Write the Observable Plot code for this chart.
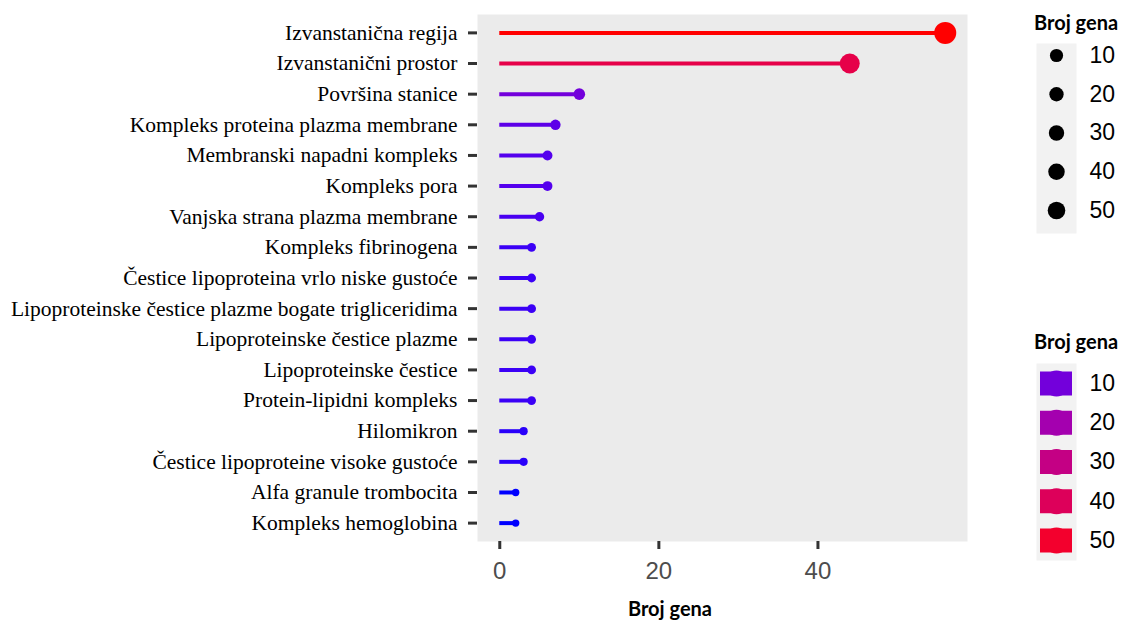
<!DOCTYPE html>
<html>
<head>
<meta charset="utf-8">
<script src="https://cdn.jsdelivr.net/npm/d3@7"></script>
<script src="https://cdn.jsdelivr.net/npm/@observablehq/plot@0.6"></script>
<style>
  html, body { margin: 0; padding: 0; background: #fff; }
  #wrap { position: relative; width: 1123px; height: 621px; overflow: hidden; }
  .abs { position: absolute; }
  .abs svg { max-width: none !important; overflow: visible; }
  .ttl { font-family: Lato, "Liberation Sans", sans-serif; font-weight: bold; font-size: 20px; color: #000; white-space: nowrap; line-height: 24px; }
</style>
</head>
<body>
<div id="wrap">
  <div id="main" class="abs" style="left:0;top:0;width:1123px"></div>
  <div id="xtitle" class="abs ttl" style="left:570px;top:596px;width:200px;text-align:center">Broj gena</div>
  <div class="abs ttl" style="left:1034px;top:10px">Broj gena</div>
  <div id="legSize" class="abs" style="left:1036px;top:43px;width:87px"></div>
  <div class="abs ttl" style="left:1034px;top:329px">Broj gena</div>
  <div id="legColor" class="abs" style="left:1036px;top:363px;width:87px"></div>
</div>
<script>
const categories = [
  "Izvanstanična regija",
  "Izvanstanični prostor",
  "Površina stanice",
  "Kompleks proteina plazma membrane",
  "Membranski napadni kompleks",
  "Kompleks pora",
  "Vanjska strana plazma membrane",
  "Kompleks fibrinogena",
  "Čestice lipoproteina vrlo niske gustoće",
  "Lipoproteinske čestice plazme bogate trigliceridima",
  "Lipoproteinske čestice plazme",
  "Lipoproteinske čestice",
  "Protein-lipidni kompleks",
  "Hilomikron",
  "Čestice lipoproteine visoke gustoće",
  "Alfa granule trombocita",
  "Kompleks hemoglobina"
];
const values = [56, 44, 10, 7, 6, 6, 5, 4, 4, 4, 4, 4, 4, 3, 3, 2, 2];
const xTicks = [0, 20, 40];
const legendValues = [10, 20, 30, 40, 50];

const data = categories.map((name, i) => ({name, value: values[i]}));

const colorScale = {type: "linear", domain: [2, 56], range: ["blue", "red"], interpolate: d3.interpolateLab};

const main = Plot.plot({
  width: 1123, height: 621,
  marginLeft: 477, marginRight: 156, marginTop: 14, marginBottom: 80,
  x: {domain: [-2.8, 58.8]},
  y: {type: "point", domain: categories, padding: 0.6, round: false},
  color: colorScale,
  r: {type: "sqrt", domain: [2, 56], range: [3.7, 11]},
  marks: [
    Plot.frame({fill: "#ebebeb", stroke: "none"}),
    Plot.ruleY(data, {y: "name", x1: 0, x2: "value", stroke: "value", strokeWidth: 4}),
    Plot.dot(data, {y: "name", x: "value", r: "value", fill: "value"}),
    Plot.axisY({tickSize: 9, tickPadding: 11, fontSize: 21.5, fontFamily: "Liberation Serif", stroke: "#333", strokeWidth: 3, fill: "#000", label: null}),
    Plot.axisX({ticks: xTicks, tickSize: 8, tickPadding: 12, fontSize: 24, fontFamily: "Liberation Sans", stroke: "#333", strokeWidth: 3, fill: "#4d4d4d", label: null})
  ]
});
document.getElementById("main").appendChild(main);

const legSize = Plot.plot({
  width: 87, height: 190,
  marginLeft: 0, marginRight: 47, marginTop: 0, marginBottom: 0,
  y: {type: "point", domain: legendValues, range: [12, 167], padding: 0, round: false},
  r: {type: "linear", domain: [10, 50], range: [6.6, 8.8]},
  marks: [
    Plot.frame({fill: "#f2f2f2", stroke: "none"}),
    Plot.dot(legendValues, {y: d => d, r: d => d, fill: "#000"}),
    Plot.axisY({anchor: "right", tickSize: 0, tickPadding: 13, fontSize: 23, fontFamily: "Liberation Sans", fill: "#000", label: null})
  ]
});
document.getElementById("legSize").appendChild(legSize);

const legColor = Plot.plot({
  width: 87, height: 197,
  marginLeft: 0, marginRight: 47, marginTop: 0, marginBottom: 0,
  y: {type: "point", domain: legendValues, range: [20, 177], padding: 0, round: false},
  color: colorScale,
  marks: [
    Plot.frame({fill: "#f2f2f2", stroke: "none"}),
    Plot.ruleY(legendValues, {y: d => d, stroke: d => d, strokeWidth: 24, insetLeft: 4, insetRight: 4}),
    Plot.dot(legendValues, {y: d => d, r: 13, fill: d => d}),
    Plot.axisY({anchor: "right", tickSize: 0, tickPadding: 13, fontSize: 23, fontFamily: "Liberation Sans", fill: "#000", label: null})
  ]
});
document.getElementById("legColor").appendChild(legColor);
</script>
</body>
</html>
